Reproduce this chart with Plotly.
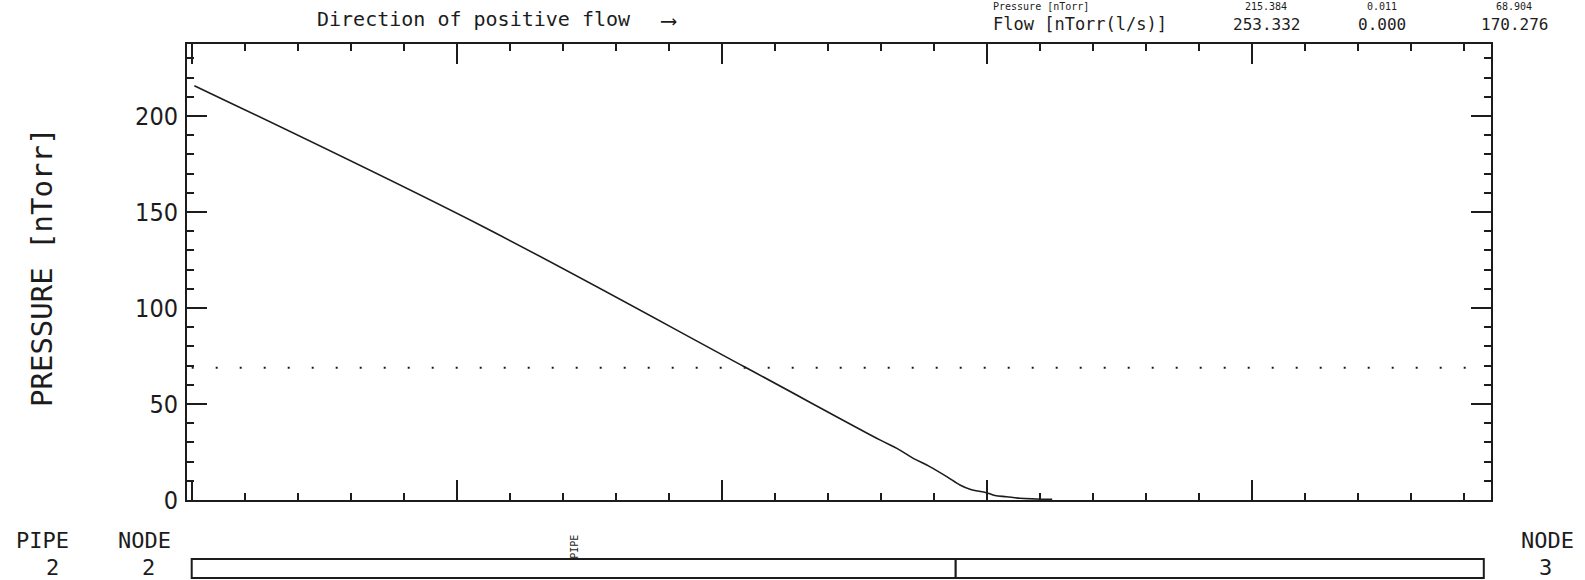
import plotly.graph_objects as go

# ---- data ----
pipe_position = [0.05, 5.50, 10.45, 12.98, 13.30, 13.61, 13.92, 14.24, 14.49,
                 14.68, 14.99, 15.15, 15.37, 15.62, 16.23]
pressure = [215.8, 142.3, 69.0, 31.3, 26.9, 21.7, 17.4, 12.2, 7.8,
            5.6, 3.8, 2.3, 1.7, 0.9, 0.3]
mean_pressure = 68.9
pipe_bounds = [0.0, 14.41, 24.37]
segment_labels = ["PIPE", ""]
pipe_id = "2"
node_ids = ["2", "3"]
y_ticks = [0, 50, 100, 150, 200]
table_rows = ["Pressure [nTorr]", "Flow [nTorr(l/s)]"]
table_values = [["215.384", "0.011", "68.904"],
                ["253.332", "0.000", "170.276"]]

W, H = 1585, 580
L, R, T, B = 187, 94, 44, 80
PW, PH = W - L - R, H - T - B
INK = "#1c1c1c"
MONO = "DejaVu Sans Mono, monospace"
NARROW = "Liberation Sans Narrow, DejaVu Sans Condensed, DejaVu Sans Mono, sans-serif"


def px(xp):
    return (xp - L) / PW


def py(yp):
    return (H - B - yp) / PH


fig = go.Figure()
fig.add_trace(go.Scatter(x=[pipe_bounds[0], pipe_bounds[-1]],
                         y=[mean_pressure, mean_pressure], mode="lines",
                         line=dict(color=INK, width=2, dash="2px,22px"),
                         hoverinfo="skip", showlegend=False))
fig.add_trace(go.Scatter(x=pipe_position, y=pressure, mode="lines",
                         line=dict(color=INK, width=1.6, shape="spline",
                                   smoothing=1.0),
                         showlegend=False))

shapes = []
for a, b in zip(pipe_bounds[:-1], pipe_bounds[1:]):
    shapes.append(dict(type="rect", xref="x", yref="paper", x0=a, x1=b,
                       y0=py(578), y1=py(559), line=dict(color=INK, width=2),
                       fillcolor="white"))

ann = []
ann.append(dict(text="Direction of positive flow", xref="paper", yref="paper",
                x=px(315), y=py(19), xanchor="left", yanchor="middle",
                showarrow=False, font=dict(family=MONO, size=20, color=INK)))
ann.append(dict(text="⟶", xref="paper", yref="paper", x=px(668), y=py(20),
                xanchor="center", yanchor="middle", showarrow=False,
                font=dict(family=MONO, size=22, color=INK)))
row_y = [7, 24]
row_size = [10, 17]
val_size = [10, 16]
col_x = [1266, 1382, 1514]
for r, (lab, vals) in enumerate(zip(table_rows, table_values)):
    ann.append(dict(text=lab, xref="paper", yref="paper", x=px(991), y=py(row_y[r]),
                    xanchor="left", yanchor="middle", showarrow=False,
                    font=dict(family=MONO, size=row_size[r], color=INK)))
    for c, v in enumerate(vals):
        ann.append(dict(text=v, xref="paper", yref="paper", x=px(col_x[c]),
                        y=py(row_y[r]), xanchor="center", yanchor="middle",
                        showarrow=False,
                        font=dict(family=MONO, size=val_size[r], color=INK)))

ann.append(dict(text="PRESSURE [nTorr]", xref="paper", yref="paper", x=px(42),
                y=py(268), textangle=-90, xanchor="center", yanchor="middle",
                showarrow=False, font=dict(family=MONO, size=29, color=INK)))

for txt, xc, yc in [("PIPE", 42, 540), (pipe_id, 52, 567),
                    ("NODE", 144, 540), (node_ids[0], 148, 567),
                    ("NODE", 1547, 540), (node_ids[1], 1545, 567)]:
    ann.append(dict(text=txt, xref="paper", yref="paper", x=px(xc), y=py(yc),
                    xanchor="center", yanchor="middle", showarrow=False,
                    font=dict(family=MONO, size=22, color=INK)))

for a, b, lab in zip(pipe_bounds[:-1], pipe_bounds[1:], segment_labels):
    if lab:
        ann.append(dict(text=lab, xref="x", yref="paper", x=(a + b) / 2, y=py(547),
                        textangle=-90, xanchor="center", yanchor="middle",
                        showarrow=False, font=dict(family=MONO, size=10, color=INK)))

x_unit = 53.02
x0_px = 191.7
fig.update_layout(
    width=W, height=H, autosize=False,
    margin=dict(l=L, r=R, t=T, b=B, pad=0),
    paper_bgcolor="white", plot_bgcolor="white",
    shapes=shapes, annotations=ann, showlegend=False,
    xaxis=dict(range=[(L - x0_px) / x_unit, (L + PW - x0_px) / x_unit],
               showgrid=False, zeroline=False, showticklabels=False,
               showline=True, linecolor=INK, linewidth=2, mirror="allticks",
               ticks="inside", ticklen=20, tickwidth=2, tickcolor=INK,
               tick0=0, dtick=5,
               minor=dict(ticks="inside", ticklen=7, tickwidth=2, tickcolor=INK,
                          tick0=0, dtick=1, showgrid=False)),
    yaxis=dict(range=[0, PH / 1.92], showgrid=False, zeroline=False,
               showline=True, linecolor=INK, linewidth=2, mirror="allticks",
               ticks="inside", ticklen=20, tickwidth=2, tickcolor=INK,
               tickvals=y_ticks, ticktext=[str(v) for v in y_ticks],
               ticklabelstandoff=2,
               tickfont=dict(family=NARROW, size=25, color=INK),
               minor=dict(ticks="inside", ticklen=7, tickwidth=2, tickcolor=INK,
                          tick0=0, dtick=10, showgrid=False)),
)

fig.write_html("out.html", config={"displayModeBar": False},
               post_script="document.body.style.margin='0';"
                           "document.body.style.padding='0';")
